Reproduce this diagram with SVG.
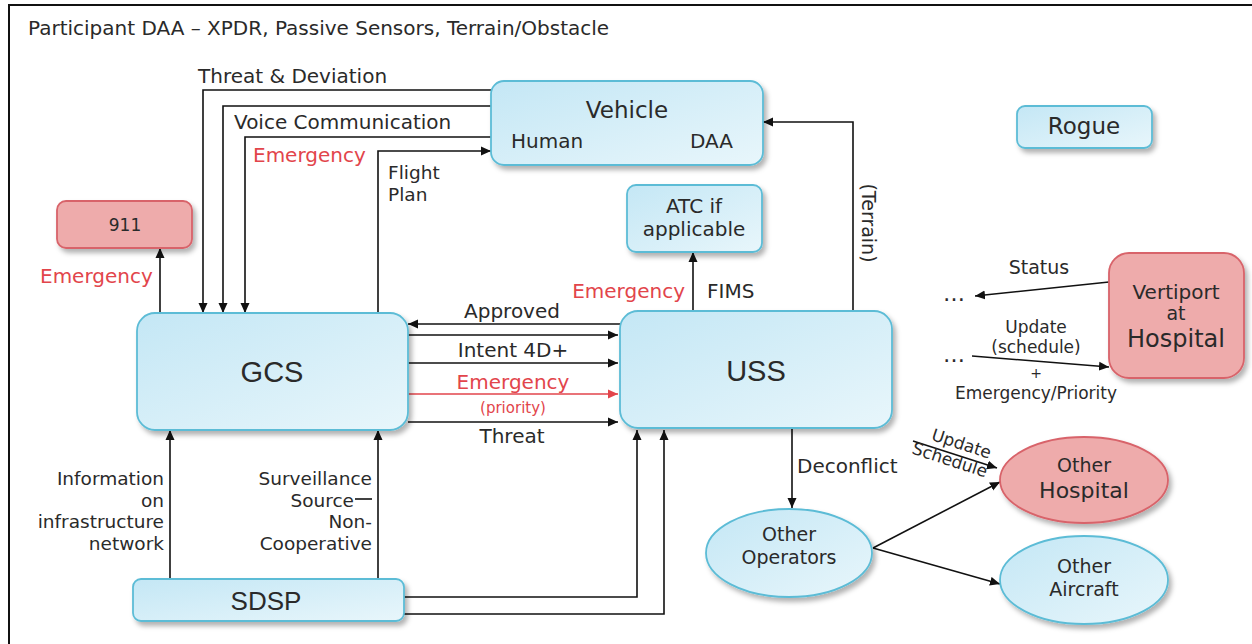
<svg xmlns="http://www.w3.org/2000/svg" width="1252" height="644" viewBox="0 0 1252 644">
<defs>
<linearGradient id="gb" x1="0" y1="0" x2="1" y2="1"><stop offset="0" stop-color="#c4e7f5"/><stop offset="1" stop-color="#e8f6fb"/></linearGradient>
<filter id="sh" x="-10%" y="-10%" width="130%" height="140%"><feDropShadow dx="3" dy="4" stdDeviation="2.5" flood-color="#000" flood-opacity="0.3"/></filter>
<marker id="ah" viewBox="0 0 10 10" refX="10" refY="5" markerWidth="10" markerHeight="10" markerUnits="userSpaceOnUse" orient="auto"><path d="M0,0.5 L10,5 L0,9.5 z" fill="#111"/></marker>
<marker id="ahr" viewBox="0 0 10 10" refX="10" refY="5" markerWidth="10" markerHeight="10" markerUnits="userSpaceOnUse" orient="auto"><path d="M0,0.5 L10,5 L0,9.5 z" fill="#e2454b"/></marker>
</defs>
<style>
.b{fill:url(#gb);stroke:#5cbcd6;stroke-width:1.8;filter:url(#sh)}
.r{fill:#eeabab;stroke:#d8636a;stroke-width:1.8;filter:url(#sh)}
text{font-family:"DejaVu Sans",Verdana,sans-serif;fill:#2a2a2a}
.n{font-family:"Liberation Sans",Arial,sans-serif}
.t{font-size:20px}
.c{text-anchor:middle}
.red{fill:#e2454b}
.ln{fill:none;stroke:#111;stroke-width:1.6}
.lr{fill:none;stroke:#e2454b;stroke-width:1.6}
.fr{fill:none;stroke:#111;stroke-width:2}
</style>
<rect width="1252" height="644" fill="#fff"/>
<path class="fr" d="M9,644 V5 H1252"/>
<text x="28" y="35" font-size="20">Participant DAA – XPDR, Passive Sensors, Terrain/Obstacle</text>

<g id="connectors">
<path class="ln" d="M491,90 H203 V313" marker-end="url(#ah)"/>
<path class="ln" d="M491,106 H223 V313" marker-end="url(#ah)"/>
<path class="ln" d="M491,137 H245 V313" marker-end="url(#ah)"/>
<path class="ln" d="M378,313 V151 H491" marker-end="url(#ah)"/>
<path class="ln" d="M160,313 V248" marker-end="url(#ah)"/>
<path class="ln" d="M620,324 H408" marker-end="url(#ah)"/>
<path class="ln" d="M408,335 H618" marker-end="url(#ah)"/>
<path class="ln" d="M408,363 H618" marker-end="url(#ah)"/>
<path class="lr" d="M408,394 H618" marker-end="url(#ahr)"/>
<path class="ln" d="M408,422 H618" marker-end="url(#ah)"/>
<path class="ln" d="M693,311 V252" marker-end="url(#ah)"/>
<path class="ln" d="M853,311 V122 H763" marker-end="url(#ah)"/>
<path class="ln" d="M792,428 V508" marker-end="url(#ah)"/>
<path class="ln" d="M873,548 L1000,482" marker-end="url(#ah)"/>
<path class="ln" d="M873,548 L1000,584" marker-end="url(#ah)"/>
<path class="ln" d="M913,441 L997,468" marker-end="url(#ah)"/>
<path class="ln" d="M1109,282 L975,296" marker-end="url(#ah)"/>
<path class="ln" d="M972,356 L1109,367" marker-end="url(#ah)"/>
<path class="ln" d="M170,579 V430" marker-end="url(#ah)"/>
<path class="ln" d="M378,579 V430" marker-end="url(#ah)"/>
<path class="ln" d="M404,597 H637 V430" marker-end="url(#ah)"/>
<path class="ln" d="M404,614 H664 V430" marker-end="url(#ah)"/>
<path class="ln" d="M355,499 H372"/>
<text class="t" x="198" y="83">Threat &amp; Deviation</text>
<text class="t" x="234" y="129">Voice Communication</text>
<text class="t red" x="253" y="162">Emergency</text>
<text x="388" y="179" font-size="18.5">Flight</text>
<text x="388" y="201" font-size="18.5">Plan</text>
<text class="t red" x="40" y="283">Emergency</text>
<text class="t c" x="512" y="318">Approved</text>
<text class="t c" x="513" y="357">Intent 4D+</text>
<text class="t c red" x="513" y="389">Emergency</text>
<text class="c red" x="513" y="413" font-size="15">(priority)</text>
<text class="t c" x="512" y="443">Threat</text>
<text class="t red" x="685" y="298" text-anchor="end">Emergency</text>
<text class="t" x="707" y="298">FIMS</text>
<text font-size="19" transform="translate(862,223) rotate(90)" text-anchor="middle">(Terrain)</text>
<text class="t" x="797" y="473">Deconflict</text>
<g transform="translate(955,454) rotate(18)">
<text font-size="17" x="3" y="-6" text-anchor="middle">Update</text>
<text font-size="17" x="-3" y="13" text-anchor="middle">Schedule</text>
</g>
<text x="943" y="301" font-size="22">…</text>
<text x="943" y="362" font-size="22">…</text>
<text class="c" x="1039" y="274" font-size="19">Status</text>
<text class="c" x="1036" y="333" font-size="17">Update</text>
<text class="c" x="1036" y="353" font-size="17">(schedule)</text>
<text class="c" x="1036" y="378" font-size="14">+</text>
<text class="c" x="1036" y="399" font-size="17">Emergency/Priority</text>
<g font-size="18.5" text-anchor="end">
<text x="164" y="485">Information</text>
<text x="164" y="506.5">on</text>
<text x="164" y="528">infrastructure</text>
<text x="164" y="549.5">network</text>
<text x="372" y="485">Surveillance</text>
<text x="354" y="506.5">Source</text>
<text x="372" y="528">Non-</text>
<text x="372" y="549.5">Cooperative</text>
</g>
</g>

<g id="vehicle"><rect class="b" x="491" y="81" width="272" height="84" rx="13"/>
<text class="c" x="627" y="118" font-size="23">Vehicle</text>
<text class="t" x="511" y="148">Human</text>
<text class="t" x="733" y="148" text-anchor="end">DAA</text></g>
<g id="rogue"><rect class="b" x="1017" y="106" width="135" height="42" rx="8"/>
<text class="c" x="1084" y="134" font-size="23">Rogue</text></g>
<g id="n911"><rect class="r" x="57" y="201" width="135" height="47" rx="9"/>
<text class="c" x="125" y="231" font-size="17">911</text></g>
<g id="atc"><rect class="b" x="627" y="185" width="135" height="67" rx="9"/>
<text class="c" x="694" y="213" font-size="20">ATC if</text>
<text class="c" x="694" y="236" font-size="20">applicable</text></g>
<g id="gcs"><rect class="b" x="137" y="313" width="271" height="117" rx="18"/>
<text class="c n" x="272" y="382" font-size="29">GCS</text></g>
<g id="uss"><rect class="b" x="620" y="311" width="272" height="117" rx="18"/>
<text class="c n" x="756" y="381" font-size="29">USS</text></g>
<g id="sdsp"><rect class="b" x="133" y="579" width="271" height="42" rx="8"/>
<text class="c n" x="266" y="610" font-size="26">SDSP</text></g>
<g id="vertiport"><rect class="r" x="1109" y="253" width="135" height="125" rx="20"/>
<text class="c" x="1176" y="299" font-size="20">Vertiport</text>
<text class="c" x="1176" y="320" font-size="19">at</text>
<text class="c" x="1176" y="347" font-size="24">Hospital</text></g>
<g id="operators"><ellipse class="b" cx="789" cy="553" rx="83" ry="44"/>
<text class="c" x="789" y="541" font-size="19">Other</text>
<text class="c" x="789" y="564" font-size="19">Operators</text></g>
<g id="hospital"><ellipse class="r" cx="1084" cy="480" rx="84" ry="43"/>
<text class="c" x="1084" y="472" font-size="19">Other</text>
<text class="c" x="1084" y="498" font-size="22">Hospital</text></g>
<g id="aircraft"><ellipse class="b" cx="1084" cy="580" rx="84" ry="44"/>
<text class="c" x="1084" y="573" font-size="19">Other</text>
<text class="c" x="1084" y="596" font-size="19">Aircraft</text></g>
</svg>
